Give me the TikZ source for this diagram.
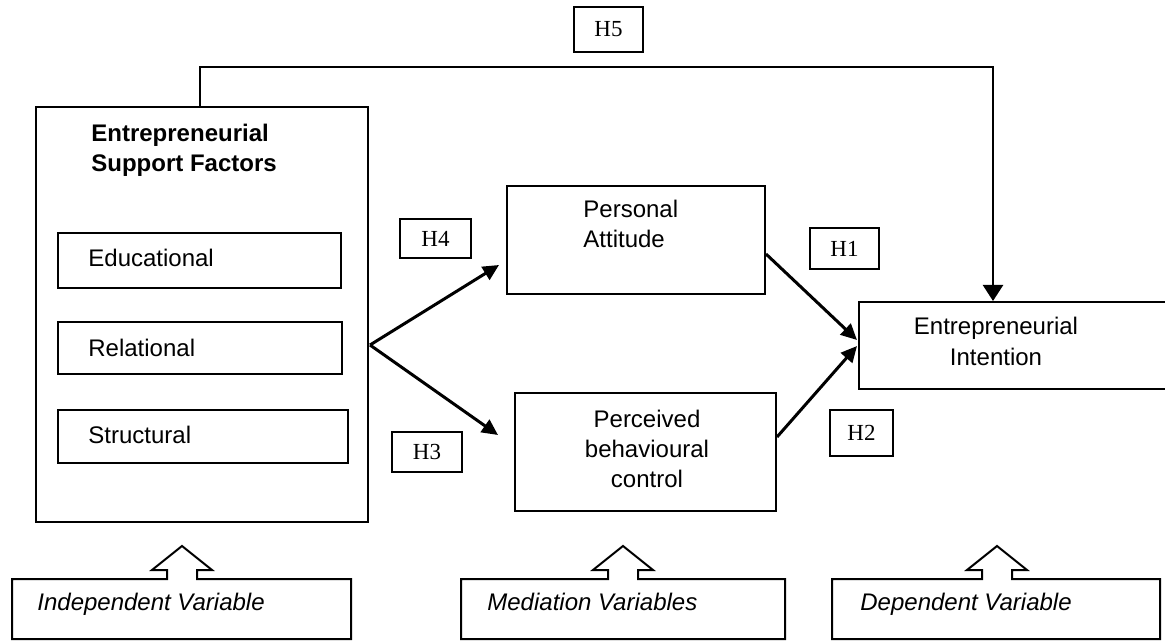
\documentclass[tikz,border=0pt]{standalone}
\usepackage{fontspec}
\setmainfont{Liberation Sans}
\newfontfamily\tnrfont{Liberation Serif}
\usetikzlibrary{arrows.meta,calc}
\begin{document}
\begin{tikzpicture}[x=0.5pt,y=-0.5pt,
  box/.style={draw, line width=1pt, rectangle, inner sep=0pt},
  outline/.style={draw, line width=1pt, line join=miter},
  hyp/.style={draw, line width=0.9pt, rectangle, inner sep=0pt, font=\tnrfont\fontsize{11.5}{13}\selectfont},
  txt/.style={inner sep=0pt, font=\fontsize{12}{15}\selectfont},
  btxt/.style={inner sep=0pt, font=\fontsize{12}{15}\selectfont\bfseries},
  itxt/.style={inner sep=0pt, font=\fontsize{12}{15}\selectfont\itshape},
  arr/.style={line width=1.5pt, -{Triangle[length=8pt,width=7.5pt]}},
  h5line/.style={line width=1.2pt, -{Triangle[length=8pt,width=10pt]}}
]
\useasboundingbox (0,0) rectangle (1165,641);
\clip (0,0) rectangle (1165,641);

% main block
\node[box, minimum width=166pt, minimum height=207.5pt] (main) at (202,314.5) {};
\node[btxt, anchor=base west] (title) at (91,142)
  {\begin{tabular}[t]{@{}l@{}}Entrepreneurial\\Support Factors\end{tabular}};
\node[box, minimum width=141.5pt, minimum height=27.5pt] (edu) at (199.5,260.5) {};
\node[txt, anchor=base west] (edut) at (88,267) {Educational};
\node[box, minimum width=142pt, minimum height=26pt] (rel) at (200,348) {};
\node[txt, anchor=base west] (relt) at (88,356) {Relational};
\node[box, minimum width=145pt, minimum height=26.5pt] (str) at (203,436.5) {};
\node[txt, anchor=base west] (strt) at (88,443) {Structural};

% mediators and outcome
\node[box, minimum width=129pt, minimum height=54pt] (pa) at (636,240) {};
\node[txt, anchor=base west] (pat) at (583,218)
  {\begin{tabular}[t]{@{}l@{}}Personal\\Attitude\end{tabular}};
\node[box, minimum width=130.5pt, minimum height=59pt] (pbc) at (645.5,452) {};
\node[txt, anchor=base] (pbct) at (647,427)
  {\begin{tabular}[t]{@{}c@{}}Perceived\\behavioural\\control\end{tabular}};
\node[box, minimum width=158pt, minimum height=43.5pt] (ei) at (1017,345.5) {};
\node[txt, anchor=base] (eit) at (996,335)
  {\begin{tabular}[t]{@{}c@{}}Entrepreneurial\\Intention\end{tabular}};

% hypothesis labels
\node[hyp, minimum width=34.5pt, minimum height=22.5pt] (h5) at (608.5,29.5) {H5};
\node[hyp, minimum width=35.5pt, minimum height=19.5pt] (h4) at (435.5,238.5) {H4};
\node[hyp, minimum width=34.5pt, minimum height=20.5pt] (h1) at (844.5,248.5) {H1};
\node[hyp, minimum width=31.5pt, minimum height=23pt] (h2) at (861.5,433) {H2};
\node[hyp, minimum width=35pt, minimum height=20pt] (h3) at (427,452) {H3};

% connectors
\coordinate (fork) at ($(main.east)+(1,30.5)$);
\draw[arr] (fork) -- ($(pa.west)+(-7,25)$);
\draw[arr] (fork) -- ($(pbc.west)+(-16,-17)$);
\draw[arr] ($(pa.east)+(0,14)$) -- ($(ei.west)+(-1,-5.5)$);
\draw[arr] ($(pbc.east)+(0,-15)$) -- ($(ei.west)+(-1,0.5)$);
\coordinate (h5turn) at (993,67);
\draw[h5line] ($(main.north)+(-2,0)$) |- (h5turn) -- (h5turn |- ei.north);

% variable type boxes with open block arrows
\draw[outline] (12,639) -- (12,579) -- (167,579) -- (167,570) -- (152,570) -- (182,546)
  -- (212,570) -- (197,570) -- (197,579) -- (351,579) -- (351,639) -- cycle;
\node[itxt, anchor=base west] (indt) at (37,610) {Independent Variable};
\draw[outline] (461,639) -- (461,579) -- (608,579) -- (608,570) -- (593,570) -- (623,546)
  -- (653,570) -- (638,570) -- (638,579) -- (785,579) -- (785,639) -- cycle;
\node[itxt, anchor=base west] (medt) at (487,610) {Mediation Variables};
\draw[outline] (832,639) -- (832,579) -- (982,579) -- (982,570) -- (967,570) -- (997,546)
  -- (1027,570) -- (1012,570) -- (1012,579) -- (1160,579) -- (1160,639) -- cycle;
\node[itxt, anchor=base west] (dept) at (860,610) {Dependent Variable};
\end{tikzpicture}
\end{document}
